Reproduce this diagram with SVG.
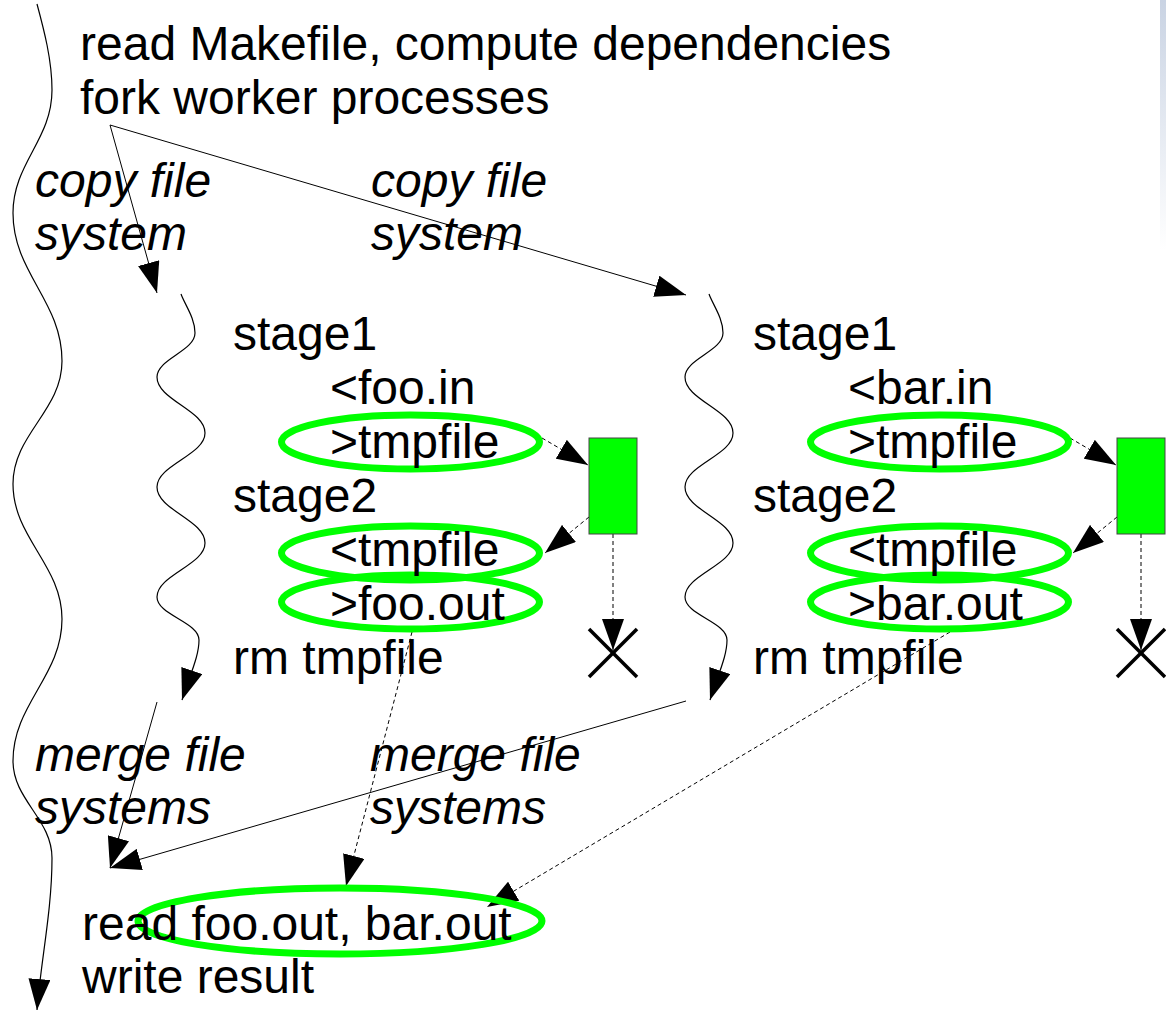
<svg xmlns="http://www.w3.org/2000/svg" width="1166" height="1017" viewBox="0 0 1166 1017">
<defs>
<marker id="ah" markerUnits="userSpaceOnUse" markerWidth="31" markerHeight="22" refX="31" refY="11" orient="auto" viewBox="0 0 31 22"><path d="M0,0 L31,11 L0,22 z" fill="#000"/></marker>
<linearGradient id="edge" x1="0" y1="0" x2="0" y2="1"><stop offset="0" stop-color="#c9d3e3"/><stop offset="1" stop-color="#ffffff"/></linearGradient>
</defs>
<style>
text{font-family:"Liberation Sans",Arial,sans-serif;font-size:48px;fill:#000}
.lbl{font-style:italic}
.ring{fill:none;stroke:#00ff00;stroke-width:7}
.ln{fill:none;stroke:#000;stroke-width:1;marker-end:url(#ah)}
.dash{fill:none;stroke:#000;stroke-width:1;stroke-dasharray:4 3;marker-end:url(#ah)}
.wave{fill:none;stroke:#000;stroke-width:1.2;marker-end:url(#ah)}
.buf{fill:#00ff00;stroke:#444;stroke-width:1}
.x{stroke:#000;stroke-width:3.5}
</style>
<rect width="1166" height="1017" fill="#fff"/>
<rect x="1160" y="0" width="6" height="250" fill="url(#edge)"/>

<g id="connectors">
  <path id="main-timeline" class="wave" d="M37,4 C44,30 52,60 52,90 C52,140 13,163 13,213 C13,273 62,301 62,361 C62,411 13,434 13,484 C13,538 62,565 62,619 C62,676 13,704 13,761 C13,800 52,819 52,858 C52,910 41,960 37,1010"/>
  <path id="worker1-timeline" class="wave" d="M181,294 C185,305 195,318 195,333 C195,351 157,359 157,377 C157,400 205,410 205,433 C205,455 157,465 157,487 C157,510 205,520 205,543 C205,565 157,575 157,597 C157,615 199,622 199,640 C199,655 192,670 182,700"/>
  <path id="worker2-timeline" class="wave" transform="translate(528,0)" d="M181,294 C185,305 195,318 195,333 C195,351 157,359 157,377 C157,400 205,410 205,433 C205,455 157,465 157,487 C157,510 205,520 205,543 C205,565 157,575 157,597 C157,615 199,622 199,640 C199,655 192,670 182,700"/>
  <path class="ln" d="M110,125 L157,293"/>
  <path class="ln" d="M110,125 L686,295"/>
  <path class="ln" d="M157,702 L110,868"/>
  <path class="ln" d="M686,701 L110,868"/>
  <path class="dash" d="M542,438 L588,465"/>
  <path class="dash" d="M589,517 L545,553"/>
  <path class="dash" d="M613,534 L613,650"/>
  <path class="dash" d="M1070,438 L1116,465"/>
  <path class="dash" d="M1117,517 L1073,553"/>
  <path class="dash" d="M1141,534 L1141,650"/>
  <path class="dash" d="M412,632 L346,886"/>
  <path class="dash" d="M950,632 L487,907"/>
</g>

<g id="main-start">
  <text x="80" y="60">read Makefile, compute dependencies</text>
  <text x="80" y="114">fork worker processes</text>
</g>

<g id="labels">
  <text class="lbl" x="35" y="197">copy file</text>
  <text class="lbl" x="35" y="250">system</text>
  <text class="lbl" x="371" y="197">copy file</text>
  <text class="lbl" x="371" y="250">system</text>
  <text class="lbl" x="35" y="771">merge file</text>
  <text class="lbl" x="35" y="824">systems</text>
  <text class="lbl" x="370" y="771">merge file</text>
  <text class="lbl" x="370" y="824">systems</text>
</g>

<g id="worker1">
  <ellipse class="ring" cx="410.5" cy="442" rx="129" ry="27"/>
  <ellipse class="ring" cx="410.5" cy="553" rx="129" ry="27"/>
  <ellipse class="ring" cx="410.5" cy="602" rx="129" ry="27"/>
  <text x="233" y="350">stage1</text>
  <text x="330" y="404">&lt;foo.in</text>
  <text x="330" y="458">&gt;tmpfile</text>
  <text x="233" y="512">stage2</text>
  <text x="330" y="566">&lt;tmpfile</text>
  <text x="330" y="620">&gt;foo.out</text>
  <text x="233" y="674">rm tmpfile</text>
</g>

<g id="worker2">
  <ellipse class="ring" cx="939.5" cy="442" rx="129" ry="27"/>
  <ellipse class="ring" cx="939.5" cy="553" rx="129" ry="27"/>
  <ellipse class="ring" cx="939.5" cy="602" rx="129" ry="27"/>
  <text x="753" y="350">stage1</text>
  <text x="848" y="404">&lt;bar.in</text>
  <text x="848" y="458">&gt;tmpfile</text>
  <text x="753" y="512">stage2</text>
  <text x="848" y="566">&lt;tmpfile</text>
  <text x="848" y="620">&gt;bar.out</text>
  <text x="753" y="674">rm tmpfile</text>
</g>

<g id="tmpfile1">
  <rect class="buf" x="589" y="438" width="48" height="96"/>
</g>
<g id="tmpfile2">
  <rect class="buf" x="1117" y="438" width="48" height="96"/>
</g>
<g id="delete1">
  <line class="x" x1="589" y1="629" x2="637" y2="677"/>
  <line class="x" x1="637" y1="629" x2="589" y2="677"/>
</g>
<g id="delete2">
  <line class="x" x1="1117" y1="629" x2="1165" y2="677"/>
  <line class="x" x1="1165" y1="629" x2="1117" y2="677"/>
</g>

<g id="main-end">
  <ellipse class="ring" cx="340" cy="921" rx="202" ry="33"/>
  <text x="82" y="940">read foo.out, bar.out</text>
  <text x="82" y="993">write result</text>
</g>
</svg>
